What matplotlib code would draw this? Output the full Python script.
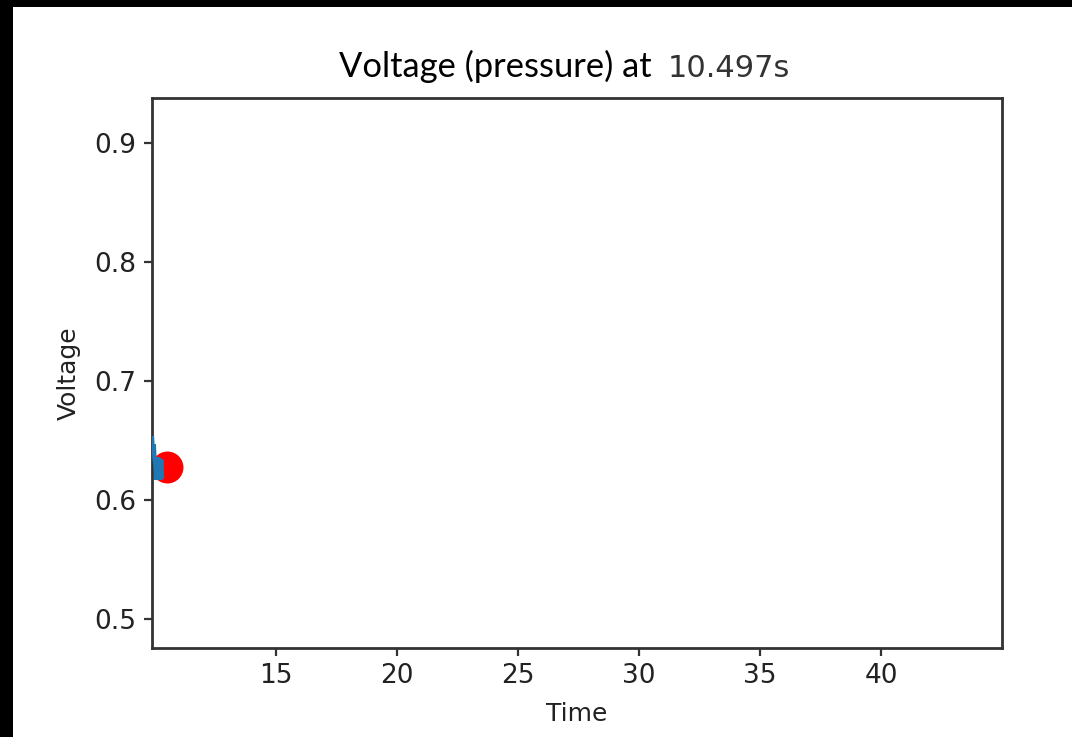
import matplotlib
matplotlib.use("Agg")
import matplotlib.pyplot as plt
from matplotlib.patches import Rectangle

# data
time_s = [9.86, 9.90, 9.93, 9.96, 10.00, 10.04, 10.08, 10.12, 10.16, 10.20, 10.24, 10.27]
voltage = [0.652, 0.638, 0.647, 0.636, 0.630, 0.617, 0.636, 0.618, 0.635, 0.617, 0.634, 0.620]
current_t = 10.497
current_v = 0.628
x_ticks = [15, 20, 25, 30, 35, 40]
y_ticks = [0.5, 0.6, 0.7, 0.8, 0.9]

W, H = 1072, 737
fig = plt.figure(figsize=(W / 100, H / 100), dpi=100, facecolor="black")
fig.patches.append(Rectangle((13 / W, 0), 1 - 13 / W, 1 - 7 / H, transform=fig.transFigure,
                             facecolor="white", edgecolor="none", zorder=-10))

ax = fig.add_axes([152 / W, 1 - 648 / H, (1002 - 152) / W, (648 - 98) / H])
ax.set_zorder(5)
ax.plot([current_t], [current_v], "o", color="red", markersize=23, markeredgewidth=0, zorder=2)
ax.plot(time_s, voltage, color="#1f77b4", lw=3.2, solid_joinstyle="miter", zorder=3)

ax.set_xlim(9.86, 45.0)
ax.set_ylim(0.4756, 0.938)
ax.set_xticks(x_ticks)
ax.set_yticks(y_ticks)
ax.set_yticklabels([f"{v:.1f}" for v in y_ticks])
ax.tick_params(axis="both", labelsize=19, length=6, width=1.6, colors="#333333", labelcolor="#222222", pad=5)
for sp in ax.spines.values():
    sp.set_linewidth(2.0)
    sp.set_color("#333333")

ax.set_xlabel("Time", fontsize=18, color="#222222", labelpad=9)
ax.set_ylabel("Voltage", fontsize=18, color="#222222", labelpad=10)

fig.text(652 / W, 1 - 77 / H, "Voltage (pressure) at", ha="right", va="baseline",
         fontsize=24.8, family="Lato", color="black", zorder=6)
fig.text(668 / W, 1 - 77 / H, "10.497s", ha="left", va="baseline",
         fontsize=22, family="DejaVu Sans", color="#333333", zorder=6)

fig.savefig("out.png", dpi=100, facecolor=fig.get_facecolor())
